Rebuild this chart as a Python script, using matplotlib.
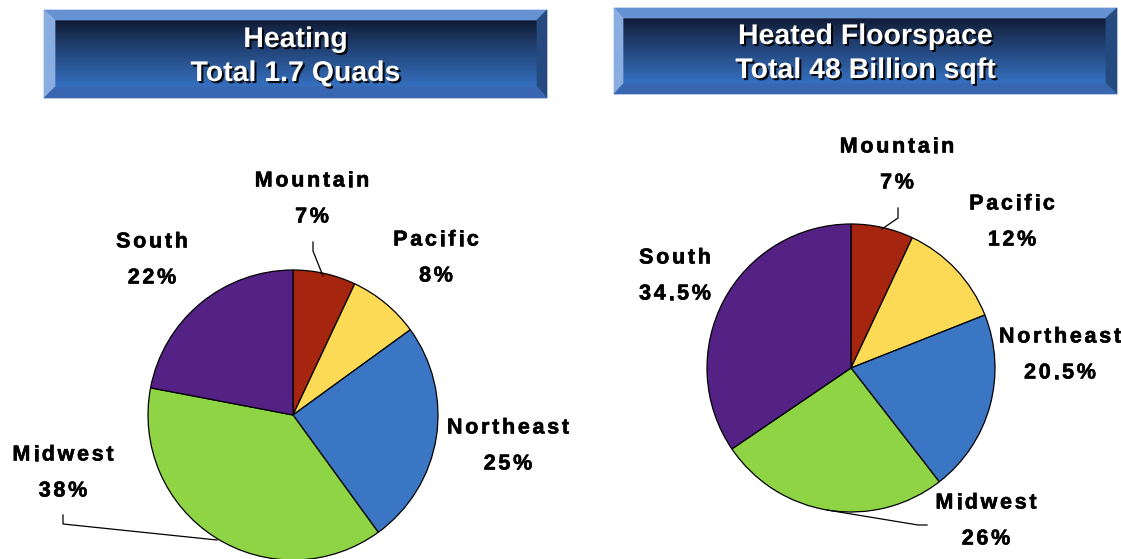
import matplotlib.pyplot as plt
import matplotlib.patheffects as pe
import numpy as np
from matplotlib.font_manager import FontProperties
from matplotlib.textpath import TextToPath
from matplotlib.patches import Polygon

W, H = 1121, 559

regions = ["Mountain", "Pacific", "Northeast", "Midwest", "South"]
heating_share = [7, 8, 25, 38, 22]
floor_share = [7, 12, 20.5, 26, 34.5]
heating_labels = ["7%", "8%", "25%", "38%", "22%"]
floor_labels = ["7%", "12%", "20.5%", "26%", "34.5%"]
colors = ["#A5250E", "#FCDA55", "#3B76C5", "#8FD445", "#542284"]

titles = [("Heating", "Total 1.7 Quads"),
          ("Heated Floorspace", "Total 48 Billion sqft")]

fig = plt.figure(figsize=(W / 100, H / 100), dpi=100)
ax = fig.add_axes([0, 0, 1, 1])

# pies (y measured from top, flipped to data coords)
ax.pie(heating_share, colors=colors, startangle=90, counterclock=False,
       center=(293, H - 415), radius=145,
       wedgeprops=dict(edgecolor="black", linewidth=0.9))
ax.pie(floor_share, colors=colors, startangle=90, counterclock=False,
       center=(851, H - 368), radius=144,
       wedgeprops=dict(edgecolor="black", linewidth=0.9))

ttp = TextToPath()
fp = FontProperties(family="Liberation Sans", weight="bold", size=15.5)


def spaced(x, y, s, gap=2.7):
    # letter-spaced label centred on (x, y), y from top
    widths = [ttp.get_text_width_height_descent(c, fp, ismath=False)[0] * 100 / 72 for c in s]
    total = sum(widths) + gap * (len(s) - 1)
    cx = x - total / 2
    for c, w in zip(s, widths):
        ax.text(cx, H - y, c, fontproperties=fp, ha="left", va="center", color="black",
                path_effects=[pe.withStroke(linewidth=0.4, foreground="black")])
        cx += w + gap


# label positions (centre of name line), for each pie
left_pos = [(312, 181), (436, 240), (508, 428), (63, 455), (152, 242)]
right_pos = [(897, 147), (1012, 204), (1060, 337), (986, 503), (675, 258)]
for names, labels, pos in [(regions, heating_labels, left_pos), (regions, floor_labels, right_pos)]:
    for name, lab, (x, y) in zip(names, labels, pos):
        spaced(x, y, name)
        spaced(x, y + 36, lab)

# leader lines
leaders = [
    [(313, 242), (313, 251), (323, 276)],
    [(63, 515), (63, 524), (217, 540)],
    [(898, 208), (898, 218), (882, 229)],
    [(927, 525), (918, 525), (827, 510)],
]
for pts in leaders:
    xs = [p[0] for p in pts]
    ys = [H - p[1] for p in pts]
    ax.plot(xs, ys, color="black", linewidth=0.9, solid_joinstyle="miter")

# title boxes: outer rect, inner rect (x0, y0, x1, y1 from top)
boxes = [((44, 10, 547, 98), (55, 20, 537, 87)),
         ((614, 8, 1117, 94), (623, 18, 1106, 84))]
grad = np.linspace(0, 1, 100).reshape(-1, 1)
top_c = np.array([0x10, 0x1A, 0x33]) / 255
bot_c = np.array([0x35, 0x70, 0xC0]) / 255
img = top_c + (bot_c - top_c) * grad[..., None] ** 0.9
img = img.reshape(100, 1, 3)
for (o, i), (l1, l2) in zip(boxes, titles):
    x0, y0, x1, y1 = o
    a0, b0, a1, b1 = i
    ax.imshow(img, extent=(a0, a1, H - b1, H - b0), aspect="auto", zorder=3,
              interpolation="bilinear")
    bev = [
        ([(x0, y0), (x1, y0), (a1, b0), (a0, b0)], "#6592D3"),
        ([(x0, y0), (a0, b0), (a0, b1), (x0, y1)], "#8AAEE2"),
        ([(x1, y0), (x1, y1), (a1, b1), (a1, b0)], "#254A80"),
        ([(x0, y1), (a0, b1), (a1, b1), (x1, y1)], "#3866B0"),
    ]
    for pts, c in bev:
        ax.add_patch(Polygon([(px, H - py) for px, py in pts], closed=True,
                             facecolor=c, edgecolor=c, linewidth=0.5, zorder=3))
    cx = (x0 + x1) / 2
    cy = (y0 + y1) / 2 + 3
    for txt, dy in [(l1, -17), (l2, 17)]:
        ax.text(cx, H - (cy + dy), txt, color="white", fontsize=20.5,
                family="Liberation Sans", weight="bold", ha="center", va="center",
                zorder=4,
                path_effects=[pe.withSimplePatchShadow(offset=(1.5, -1.5),
                                                       shadow_rgbFace="black", alpha=0.9)])

ax.set_xlim(0, W)
ax.set_ylim(0, H)
ax.set_aspect("auto")
ax.axis("off")

fig.savefig("out.png", dpi=100, facecolor="white")
